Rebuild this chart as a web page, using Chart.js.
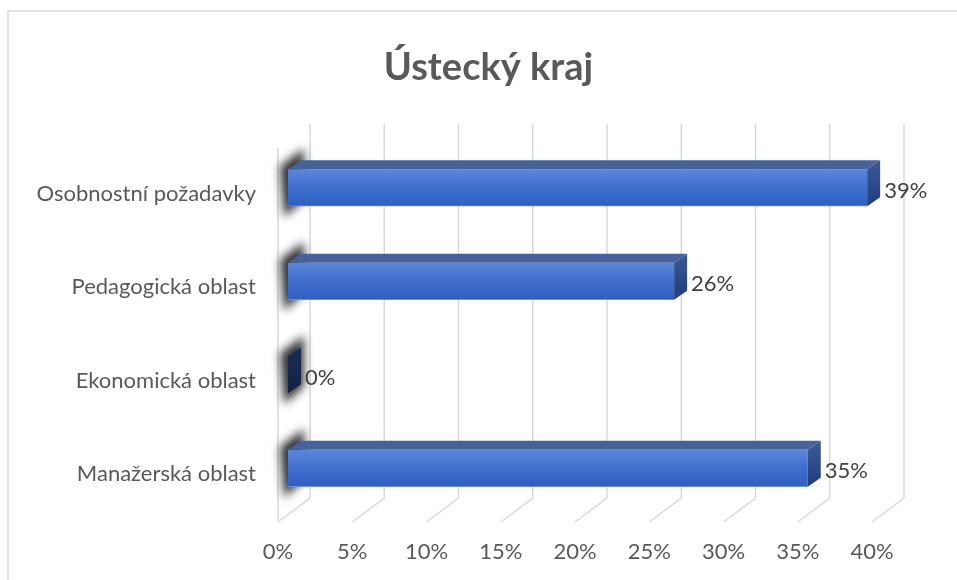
<!DOCTYPE html>
<html><head><meta charset="utf-8">
<script src="https://cdn.jsdelivr.net/npm/chart.js@4.4.1/dist/chart.umd.min.js"></script>
<style>html,body{margin:0;padding:0;background:#fff}#wrap{width:957px;height:580px}</style>
</head><body><div id="wrap"><canvas id="c" width="957" height="580"></canvas></div>
<script>
const chartTitle = 'Ústecký kraj';
const categories = ['Osobnostní požadavky', 'Pedagogická oblast', 'Ekonomická oblast', 'Manažerská oblast'];
const values = [39, 26, 0, 35];
const valueLabels = ['39%', '26%', '0%', '35%'];
const tickValues = [0, 5, 10, 15, 20, 25, 30, 35, 40];
const tickLabels = ['0%', '5%', '10%', '15%', '20%', '25%', '30%', '35%', '40%'];

const FONT = 'Lato, "Open Sans", sans-serif';
const BAR_DX = 13, BAR_DY = -9;          // bar depth
const BACK_DX = 22, BACK_DY = -17;       // back wall offset
const FRONT_DX = -10, FRONT_DY = 7;      // front floor edge offset

function frontGradient(ctx, top, bottom) {
  const g = ctx.createLinearGradient(0, top, 0, bottom);
  g.addColorStop(0, '#5c87d8');
  g.addColorStop(0.5, '#3f6ecd');
  g.addColorStop(1, '#2e5fc1');
  return g;
}

const threeD = {
  id: 'threeD',
  beforeDraw(chart) {
    const ctx = chart.ctx;
    ctx.save();
    ctx.fillStyle = '#ffffff';
    ctx.fillRect(0, 0, chart.width, chart.height);
    ctx.strokeStyle = '#d9d9d9';
    ctx.lineWidth = 1.5;
    ctx.beginPath();
    ctx.moveTo(8, chart.height + 2);
    ctx.lineTo(8, 11);
    ctx.lineTo(chart.width + 2, 11);
    ctx.stroke();
    // title
    ctx.fillStyle = '#595959';
    ctx.font = 'bold 38px ' + FONT;
    ctx.textAlign = 'center';
    ctx.textBaseline = 'alphabetic';
    ctx.fillText(chartTitle, 488.5, 80);
    ctx.restore();
  },
  beforeDatasetsDraw(chart) {
    const ctx = chart.ctx, xs = chart.scales.x, a = chart.chartArea;
    ctx.save();
    ctx.strokeStyle = '#d9d9d9';
    ctx.lineWidth = 1.5;
    ctx.beginPath();
    tickValues.forEach(v => {
      const px = xs.getPixelForValue(v);
      ctx.moveTo(px + BACK_DX, a.top + BACK_DY);
      ctx.lineTo(px + BACK_DX, a.bottom + BACK_DY);
      ctx.lineTo(px + FRONT_DX, a.bottom + FRONT_DY);
    });
    const p0 = xs.getPixelForValue(0);
    ctx.moveTo(p0 + FRONT_DX, a.top + FRONT_DY);
    ctx.lineTo(p0 + FRONT_DX, a.bottom + FRONT_DY);
    ctx.stroke();
    // shadows on side wall
    const meta = chart.getDatasetMeta(0);
    ctx.filter = 'blur(5px)';
    ctx.fillStyle = 'rgba(40,40,40,0.95)';
    meta.data.forEach(el => {
      const h = el.height, top = el.y - h / 2, bot = el.y + h / 2;
      ctx.beginPath();
      ctx.moveTo(p0 - 8, top - 3);
      ctx.lineTo(p0 + BAR_DX + 3, top + BAR_DY - 12);
      ctx.lineTo(p0 + BAR_DX + 3, bot + BAR_DY + 2);
      ctx.lineTo(p0 - 4, bot + 11);
      ctx.closePath();
      ctx.fill();
    });
    ctx.restore();
  },
  afterDatasetsDraw(chart) {
    const ctx = chart.ctx, xs = chart.scales.x;
    const meta = chart.getDatasetMeta(0);
    ctx.save();
    meta.data.forEach((el, i) => {
      const h = el.height, top = el.y - h / 2, bot = el.y + h / 2;
      const x0 = xs.getPixelForValue(0), x1 = el.x;
      // top face
      if (x1 - x0 > 0.5) {
        ctx.fillStyle = '#46629c';
        ctx.beginPath();
        ctx.moveTo(x0, top);
        ctx.lineTo(x1, top);
        ctx.lineTo(x1 + BAR_DX, top + BAR_DY);
        ctx.lineTo(x0 + BAR_DX, top + BAR_DY);
        ctx.closePath();
        ctx.fill();
      }
      // right face
      const g = ctx.createLinearGradient(0, top + BAR_DY, 0, bot);
      if (x1 - x0 > 0.5) {
        g.addColorStop(0, '#3b5999');
        g.addColorStop(1, '#203e7c');
      } else {
        g.addColorStop(0, '#1a2d57');
        g.addColorStop(1, '#12213f');
      }
      ctx.fillStyle = g;
      ctx.beginPath();
      ctx.moveTo(x1, top);
      ctx.lineTo(x1 + BAR_DX, top + BAR_DY);
      ctx.lineTo(x1 + BAR_DX, bot + BAR_DY);
      ctx.lineTo(x1, bot);
      ctx.closePath();
      ctx.fill();
      // value label
      ctx.fillStyle = '#404040';
      ctx.font = '22px ' + FONT;
      ctx.textAlign = 'left';
      ctx.textBaseline = 'middle';
      ctx.fillText(valueLabels[i], x1 + 17, el.y + 3);
    });
    ctx.restore();
  }
};

new Chart(document.getElementById('c'), {
  type: 'bar',
  data: {
    labels: categories,
    datasets: [{
      data: values,
      barThickness: 37,
      backgroundColor: (c) => {
        const chart = c.chart;
        if (!chart.chartArea || c.dataIndex === undefined) return '#3f6ecd';
        const y = chart.scales.y.getPixelForValue(c.dataIndex);
        return frontGradient(chart.ctx, y - 18.5, y + 18.5);
      },
      borderColor: '#6a8fd8',
      borderWidth: {top: 0, left: 0, right: 0, bottom: 1},
      borderSkipped: false
    }]
  },
  options: {
    indexAxis: 'y',
    responsive: false,
    animation: false,
    devicePixelRatio: 1,
    layout: {padding: {left: 0, right: 75, top: 141, bottom: 0}},
    plugins: {
      legend: {display: false},
      tooltip: {enabled: false},
      title: {display: false}
    },
    scales: {
      x: {
        min: 0, max: 40,
        afterBuildTicks: (s) => { s.ticks = tickValues.map(v => ({value: v})); },
        afterFit: (s) => { s.height = 65; },
        grid: {display: false, drawTicks: false},
        border: {display: false},
        ticks: {
          callback: (v, i) => tickLabels[i],
          color: '#595959',
          font: {family: FONT, size: 22},
          padding: 24,
          labelOffset: -10,
          maxRotation: 0
        }
      },
      y: {
        afterFit: (s) => { s.width = 288; },
        grid: {display: false, drawTicks: false},
        border: {display: false},
        ticks: {
          color: '#595959',
          font: {family: FONT, size: 22},
          padding: 32,
          labelOffset: 6
        }
      }
    }
  },
  plugins: [threeD]
});
</script>
</body></html>
